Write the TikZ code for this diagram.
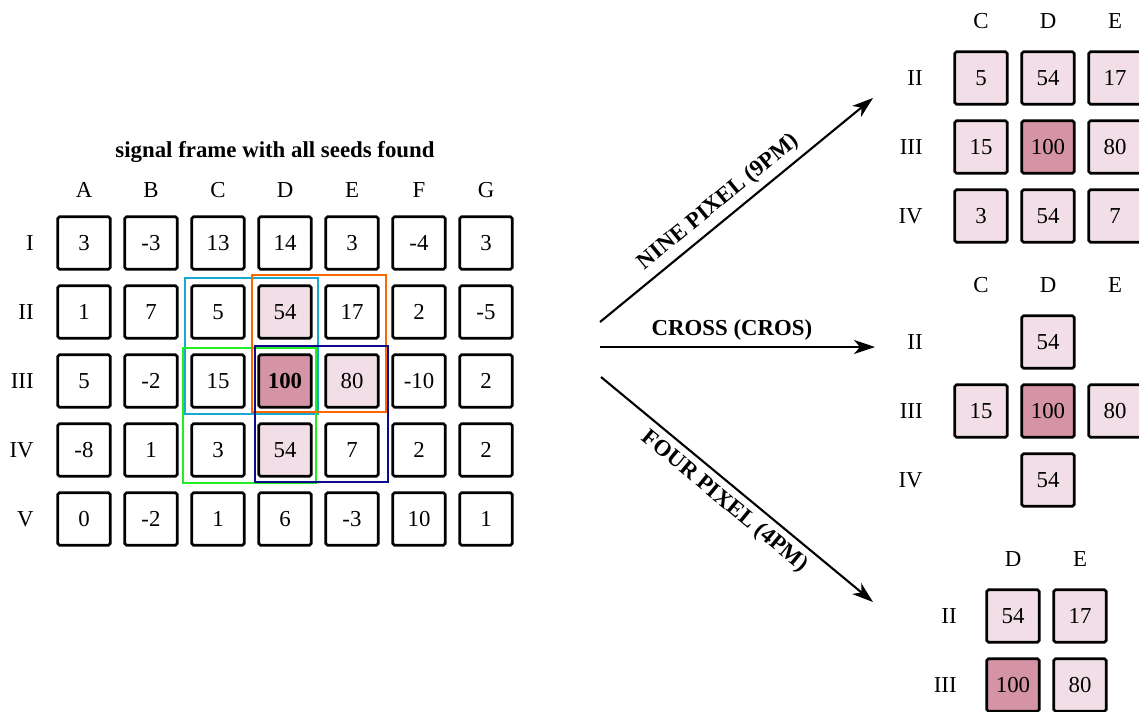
\documentclass[tikz,border=0pt]{standalone}
\usepackage{fontspec}
\setmainfont{Liberation Serif}
\usetikzlibrary{arrows.meta}

\definecolor{seedlight}{RGB}{241,222,230}
\definecolor{seeddark}{RGB}{212,148,166}
\definecolor{boxcyan}{RGB}{24,168,210}
\definecolor{boxorange}{RGB}{255,102,0}
\definecolor{boxgreen}{RGB}{34,238,34}
\definecolor{boxnavy}{RGB}{12,12,140}

\tikzset{
  cellw/.style={draw, line width=1.5pt, rounded corners=1pt, minimum size=1.05cm,
    inner sep=0pt, font=\fontsize{13}{15}\selectfont},
  cellp/.style={cellw, fill=seedlight},
  celld/.style={cellw, fill=seeddark},
  lbl/.style={font=\fontsize{13}{15}\selectfont},
  rowlbl/.style={lbl, anchor=east, inner sep=0pt},
  ttl/.style={font=\fontsize{13}{15}\selectfont\bfseries},
  arr/.style={line width=1.2pt, -{Stealth[length=0.42cm, width=0.28cm, inset=0.12cm]}},
  seedbox/.style={line width=1.3pt}
}

\begin{document}
\begin{tikzpicture}[x=0.02cm, y=-0.02cm]
    \useasboundingbox (0,0) rectangle (1139,711);

    % left frame
    \node[ttl] (title) at (275,152) {signal frame with all seeds found};
    \foreach \n [count=\c] in {A,B,C,D,E,F,G}
      \node[lbl] (colL\n) at ({84+67*(\c-1)},190) {\n};
    \foreach \n/\y in {I/243,II/312,III/381,IV/450,V/519}
      \node[rowlbl] (rowL\n) at (34,\y) {\n};

    \foreach \v/\s [count=\c] in {3/cellw,-3/cellw,13/cellw,14/cellw,3/cellw,-4/cellw,3/cellw}
      \node[\s] (L1\c) at ({84+67*(\c-1)},243) {\v};
    \foreach \v/\s [count=\c] in {1/cellw,7/cellw,5/cellw,54/cellp,17/cellw,2/cellw,-5/cellw}
      \node[\s] (L2\c) at ({84+67*(\c-1)},312) {\v};
    \foreach \v/\s [count=\c] in {5/cellw,-2/cellw,15/cellw,\textbf{100}/celld,80/cellp,-10/cellw,2/cellw}
      \node[\s] (L3\c) at ({84+67*(\c-1)},381) {\v};
    \foreach \v/\s [count=\c] in {-8/cellw,1/cellw,3/cellw,54/cellp,7/cellw,2/cellw,2/cellw}
      \node[\s] (L4\c) at ({84+67*(\c-1)},450) {\v};
    \foreach \v/\s [count=\c] in {0/cellw,-2/cellw,1/cellw,6/cellw,-3/cellw,10/cellw,1/cellw}
      \node[\s] (L5\c) at ({84+67*(\c-1)},519) {\v};

    % seed windows
    \draw[seedbox, boxcyan] (185,278) rectangle (318,414);
    \draw[seedbox, boxgreen] (183,348) rectangle (316,483);
    \draw[seedbox, boxorange] (252,275) rectangle (386,412);
    \draw[seedbox, boxnavy] (255,346) rectangle (388,482);

    % arrows
    \coordinate (src9) at (600,322);
    \coordinate (dst9) at (873,98);
    \coordinate (srcX) at (600,347);
    \coordinate (dstX) at (875,347);
    \coordinate (src4) at (601,377);
    \coordinate (dst4) at (873,602);
    \draw[arr] (src9) -- node[ttl, above, sloped, pos=0.475] (lab9) {NINE PIXEL (9PM)} (dst9);
    \draw[arr] (srcX) -- node[ttl, above, pos=0.48] (labX) {CROSS (CROS)} (dstX);
    \draw[arr] (src4) -- node[ttl, below, sloped, pos=0.495] (lab4) {FOUR PIXEL (4PM)} (dst4);

    % nine pixel
    \foreach \n/\x in {C/981,D/1048,E/1115}
      \node[lbl] (colN\n) at (\x,21) {\n};
    \foreach \n/\y in {II/78,III/147,IV/216}
      \node[rowlbl] (rowN\n) at (923,\y) {\n};
    \node[cellp] (N11) at (981,78) {5};
    \node[cellp] (N12) at (1048,78) {54};
    \node[cellp] (N13) at (1115,78) {17};
    \node[cellp] (N21) at (981,147) {15};
    \node[celld] (N22) at (1048,147) {100};
    \node[cellp] (N23) at (1115,147) {80};
    \node[cellp] (N31) at (981,216) {3};
    \node[cellp] (N32) at (1048,216) {54};
    \node[cellp] (N33) at (1115,216) {7};

    % cross
    \foreach \n/\x in {C/981,D/1048,E/1115}
      \node[lbl] (colX\n) at (\x,285) {\n};
    \foreach \n/\y in {II/342,III/411,IV/480}
      \node[rowlbl] (rowX\n) at (923,\y) {\n};
    \node[cellp] (X12) at (1048,342) {54};
    \node[cellp] (X21) at (981,411) {15};
    \node[celld] (X22) at (1048,411) {100};
    \node[cellp] (X23) at (1115,411) {80};
    \node[cellp] (X32) at (1048,480) {54};

    % four pixel
    \foreach \n/\x in {D/1013,E/1080}
      \node[lbl] (colF\n) at (\x,559) {\n};
    \foreach \n/\y in {II/616,III/685}
      \node[rowlbl] (rowF\n) at (957,\y) {\n};
    \node[cellp] (F11) at (1013,616) {54};
    \node[cellp] (F12) at (1080,616) {17};
    \node[celld] (F21) at (1013,685) {100};
    \node[cellp] (F22) at (1080,685) {80};
  \end{tikzpicture}
\end{document}
